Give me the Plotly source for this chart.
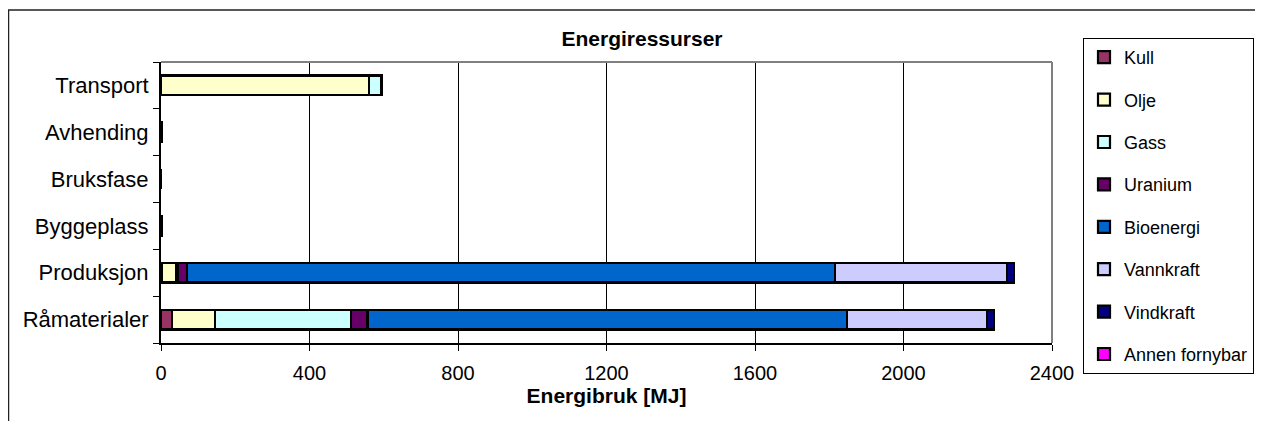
import plotly.graph_objects as go

categories = ["Råmaterialer", "Produksjon", "Byggeplass", "Bruksfase", "Avhending", "Transport"]
kull = [30, 3, 2, 0, 2, 0]
olje = [116, 38, 0, 0, 0, 561]
gass = [365, 4, 0, 0, 0, 33]
uranium = [45, 24, 0, 0, 0, 0]
bioenergi = [1291, 1746, 0, 0, 0, 0]
vannkraft = [378, 464, 0, 0, 0, 0]
vindkraft = [18, 19, 0, 0, 0, 0]
annen = [0, 0, 0, 0, 0, 0]

series = [
    ("Kull", kull, "#993366"),
    ("Olje", olje, "#FFFFCC"),
    ("Gass", gass, "#CCFFFF"),
    ("Uranium", uranium, "#660066"),
    ("Bioenergi", bioenergi, "#0066CC"),
    ("Vannkraft", vannkraft, "#CCCCFF"),
    ("Vindkraft", vindkraft, "#000080"),
    ("Annen fornybar", annen, "#FF00FF"),
]
x_ticks = [0, 400, 800, 1200, 1600, 2000, 2400]

FONT = "Liberation Sans, Arial, sans-serif"
OFF = 8  # page body margin
W, H = 1263 - OFF, 421 - OFF
L, R, T, B = 161 - OFF, 1052 - OFF, 62 - OFF, 343 - OFF

fig = go.Figure()
for i, (name, vals, col) in enumerate(series):
    fig.add_trace(go.Bar(
        y=categories, x=vals, name=name, orientation="h",
        marker=dict(color=col, line=dict(color="black", width=2.2)),
        legendgroup=str(i),
    ))

def px_x(p):
    return (p - OFF - L) / (R - L)

def px_y(p):
    return (B - (p - OFF)) / (B - T)

shapes = [
    dict(type="rect", xref="paper", yref="paper", x0=px_x(8.5), x1=px_x(1290), y0=px_y(440), y1=px_y(10),
         line=dict(color="#222", width=1.5), fillcolor="rgba(0,0,0,0)", layer="below"),
    dict(type="line", xref="paper", yref="paper", x0=0, x1=1, y0=1, y1=1, line=dict(color="#808080", width=2)),
    dict(type="line", xref="paper", yref="paper", x0=1, x1=1, y0=0, y1=1, line=dict(color="#808080", width=2)),
]

fig.update_layout(
    width=W, height=H,
    margin=dict(l=L, r=W - R, t=T, b=H - B, autoexpand=False),
    barmode="stack", bargap=0.58,
    plot_bgcolor="white", paper_bgcolor="white",
    font=dict(family=FONT, color="black", size=20),
    title=dict(text="<b>Energiressurser</b>", xref="container", yref="container",
               x=(642 - OFF) / W, y=1 - (39 - OFF) / H, xanchor="center", yanchor="middle",
               font=dict(size=21, family=FONT, color="black")),
    xaxis=dict(range=[0, 2400], tickvals=x_ticks, ticktext=[str(v) for v in x_ticks],
               showgrid=True, gridcolor="black", gridwidth=1,
               showline=True, linecolor="black", linewidth=2,
               ticks="outside", ticklen=6, tickcolor="black", tickwidth=1,
               tickfont=dict(size=20), zeroline=False, ticklabelstandoff=5,
               title=dict(text="<b>Energibruk [MJ]</b>", font=dict(size=21), standoff=4)),
    yaxis=dict(categoryorder="array", categoryarray=categories,
               showline=True, linecolor="black", linewidth=2,
               ticks="outside", ticklen=6, tickcolor="black", tickson="boundaries",
               showgrid=False, tickfont=dict(size=22), ticklabelstandoff=6),
    legend=dict(x=px_x(1083), y=px_y(38), xref="paper", yref="paper", xanchor="left", yanchor="top",
                bordercolor="black", borderwidth=1, bgcolor="white",
                font=dict(size=18, family=FONT), traceorder="grouped", tracegroupgap=16,
                itemwidth=30, maxheight=400),
    shapes=shapes,
)

fig.write_html("out.html")
